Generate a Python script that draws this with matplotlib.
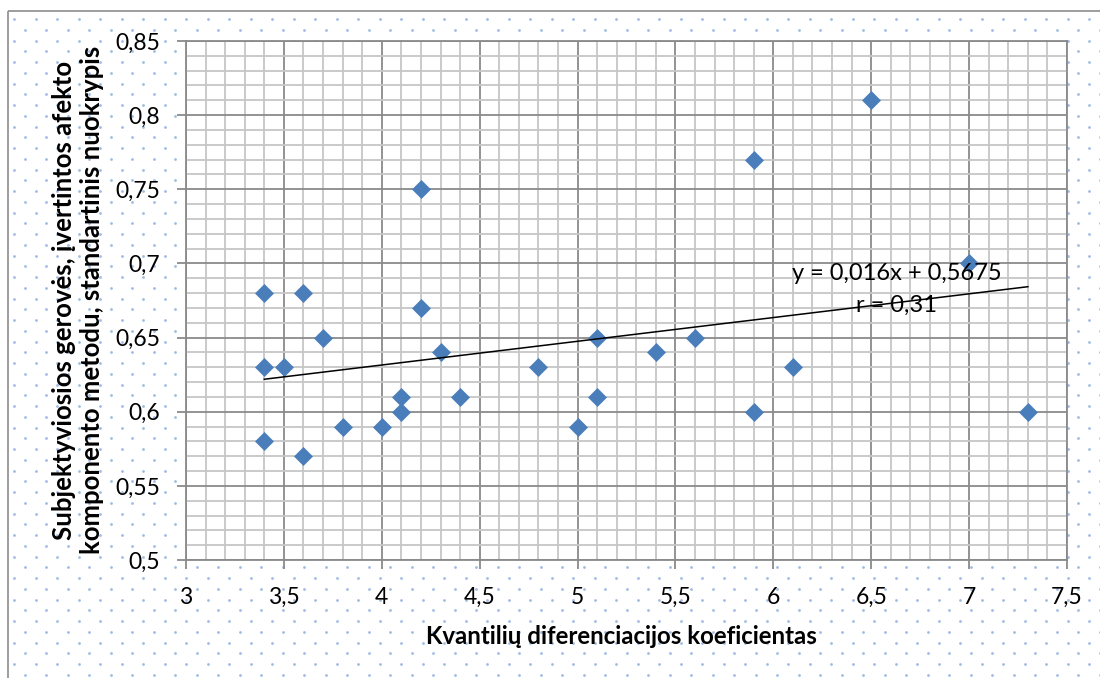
import numpy as np
import matplotlib
matplotlib.use("Agg")
import matplotlib.pyplot as plt
from matplotlib.ticker import MultipleLocator, FixedLocator, FixedFormatter
from matplotlib.patches import Rectangle

# ---- data ----
x_values = [3.4, 3.4, 3.4, 3.5, 3.6, 3.6, 3.7, 3.8, 4.0, 4.1, 4.1, 4.2, 4.2, 4.3,
            4.4, 4.8, 5.0, 5.1, 5.1, 5.4, 5.6, 5.9, 5.9, 6.1, 6.5, 7.0, 7.3]
y_values = [0.68, 0.63, 0.58, 0.63, 0.68, 0.57, 0.65, 0.59, 0.59, 0.61, 0.60, 0.75, 0.67, 0.64,
            0.61, 0.63, 0.59, 0.65, 0.61, 0.64, 0.65, 0.77, 0.60, 0.63, 0.81, 0.70, 0.60]
trend_slope = 0.016
trend_intercept = 0.5675
equation_text = "y = 0,016x + 0,5675"
r_text = "r = 0,31"

x_ticks = [3, 3.5, 4, 4.5, 5, 5.5, 6, 6.5, 7, 7.5]
x_tick_labels = ["3", "3,5", "4", "4,5", "5", "5,5", "6", "6,5", "7", "7,5"]
y_ticks = [0.5, 0.55, 0.6, 0.65, 0.7, 0.75, 0.8, 0.85]
y_tick_labels = ["0,5", "0,55", "0,6", "0,65", "0,7", "0,75", "0,8", "0,85"]

x_title = "Kvantilių diferenciacijos koeficientas"
y_title = "Subjektyviosios gerovės, įvertintos afekto\nkomponento metodu, standartinis nuokrypis"

# ---- style ----
FONT = ["Lato", "DejaVu Sans"]
plt.rcParams['font.family'] = FONT
W, H = 1100, 678
fig = plt.figure(figsize=(W / 100, H / 100), dpi=100)
fig.patch.set_facecolor("white")

# background dotted pattern
bg = fig.add_axes([0, 0, 1, 1], zorder=-5)
bg.set_xlim(0, W)
bg.set_ylim(H, 0)
bg.axis("off")
dx, dy = 21.5, 10.75
xs, ys = [], []
for k, yy in enumerate(np.arange(19, H + 5, dy)):
    x0 = 14 if k % 2 == 0 else 14 + dx / 2
    for xx in np.arange(x0, W + 5, dx):
        xs.append(xx)
        ys.append(yy)
bg.plot(xs, ys, "o", ms=2.0, color="#9dbbe6", mec="none")
bg.add_patch(Rectangle((8, 11), W, H, fill=False, edgecolor="#8c8c8c", lw=1.2))

# main axes
L, R, T, B = 186, 1067, 41, 560
ax = fig.add_axes([L / W, 1 - B / H, (R - L) / W, (B - T) / H], zorder=1)
ax.set_facecolor("white")
ax.set_xlim(3, 7.5)
ax.set_ylim(0.5, 0.85)

ax.xaxis.set_major_locator(FixedLocator(x_ticks))
ax.xaxis.set_major_formatter(FixedFormatter(x_tick_labels))
ax.yaxis.set_major_locator(FixedLocator(y_ticks))
ax.yaxis.set_major_formatter(FixedFormatter(y_tick_labels))
ax.xaxis.set_minor_locator(MultipleLocator(0.1))
ax.yaxis.set_minor_locator(MultipleLocator(0.01))

ax.grid(which="minor", color="#c6c6c6", lw=1.3, zorder=0)
ax.grid(which="major", color="#8a8a8a", lw=1.3, zorder=0.5)
ax.set_axisbelow(True)
for s in ax.spines.values():
    s.set_color("#8a8a8a")
    s.set_linewidth(1.3)

ax.tick_params(which="major", direction="out", length=6.5, width=1.3, color="#8a8a8a",
               labelsize=16.5)
ax.tick_params(axis="x", which="major", pad=13)
ax.tick_params(axis="y", which="major", pad=12)
ax.tick_params(which="minor", length=0)

# scatter points
ax.plot(x_values, y_values, "D", ms=9.6, color="#4a7ebb", mec="#4a7ebb", mew=0.5,
        zorder=3, clip_on=False)

# trend line
xt = np.array([min(x_values), max(x_values)])
ax.plot(xt, trend_slope * xt + trend_intercept, color="black", lw=1.1, zorder=4)

ax.text(6.63, 0.6935, equation_text, fontsize=17, ha="center", va="center", zorder=5)
ax.text(6.63, 0.672, r_text, fontsize=17, ha="center", va="center", zorder=5)

ax.set_xlabel(x_title, fontsize=17.3, fontweight="bold")
ax.set_ylabel(y_title, fontsize=18.5, fontweight="bold", linespacing=1.2)
ax.xaxis.label.set_va("center")
ax.yaxis.label.set_va("center")
ax.xaxis.set_label_coords((621 - L) / (R - L), (B - 637) / (B - T))
ax.yaxis.set_label_coords((78 - L) / (R - L), (B - 300) / (B - T))

fig.savefig("out.png", dpi=100, facecolor="white")
